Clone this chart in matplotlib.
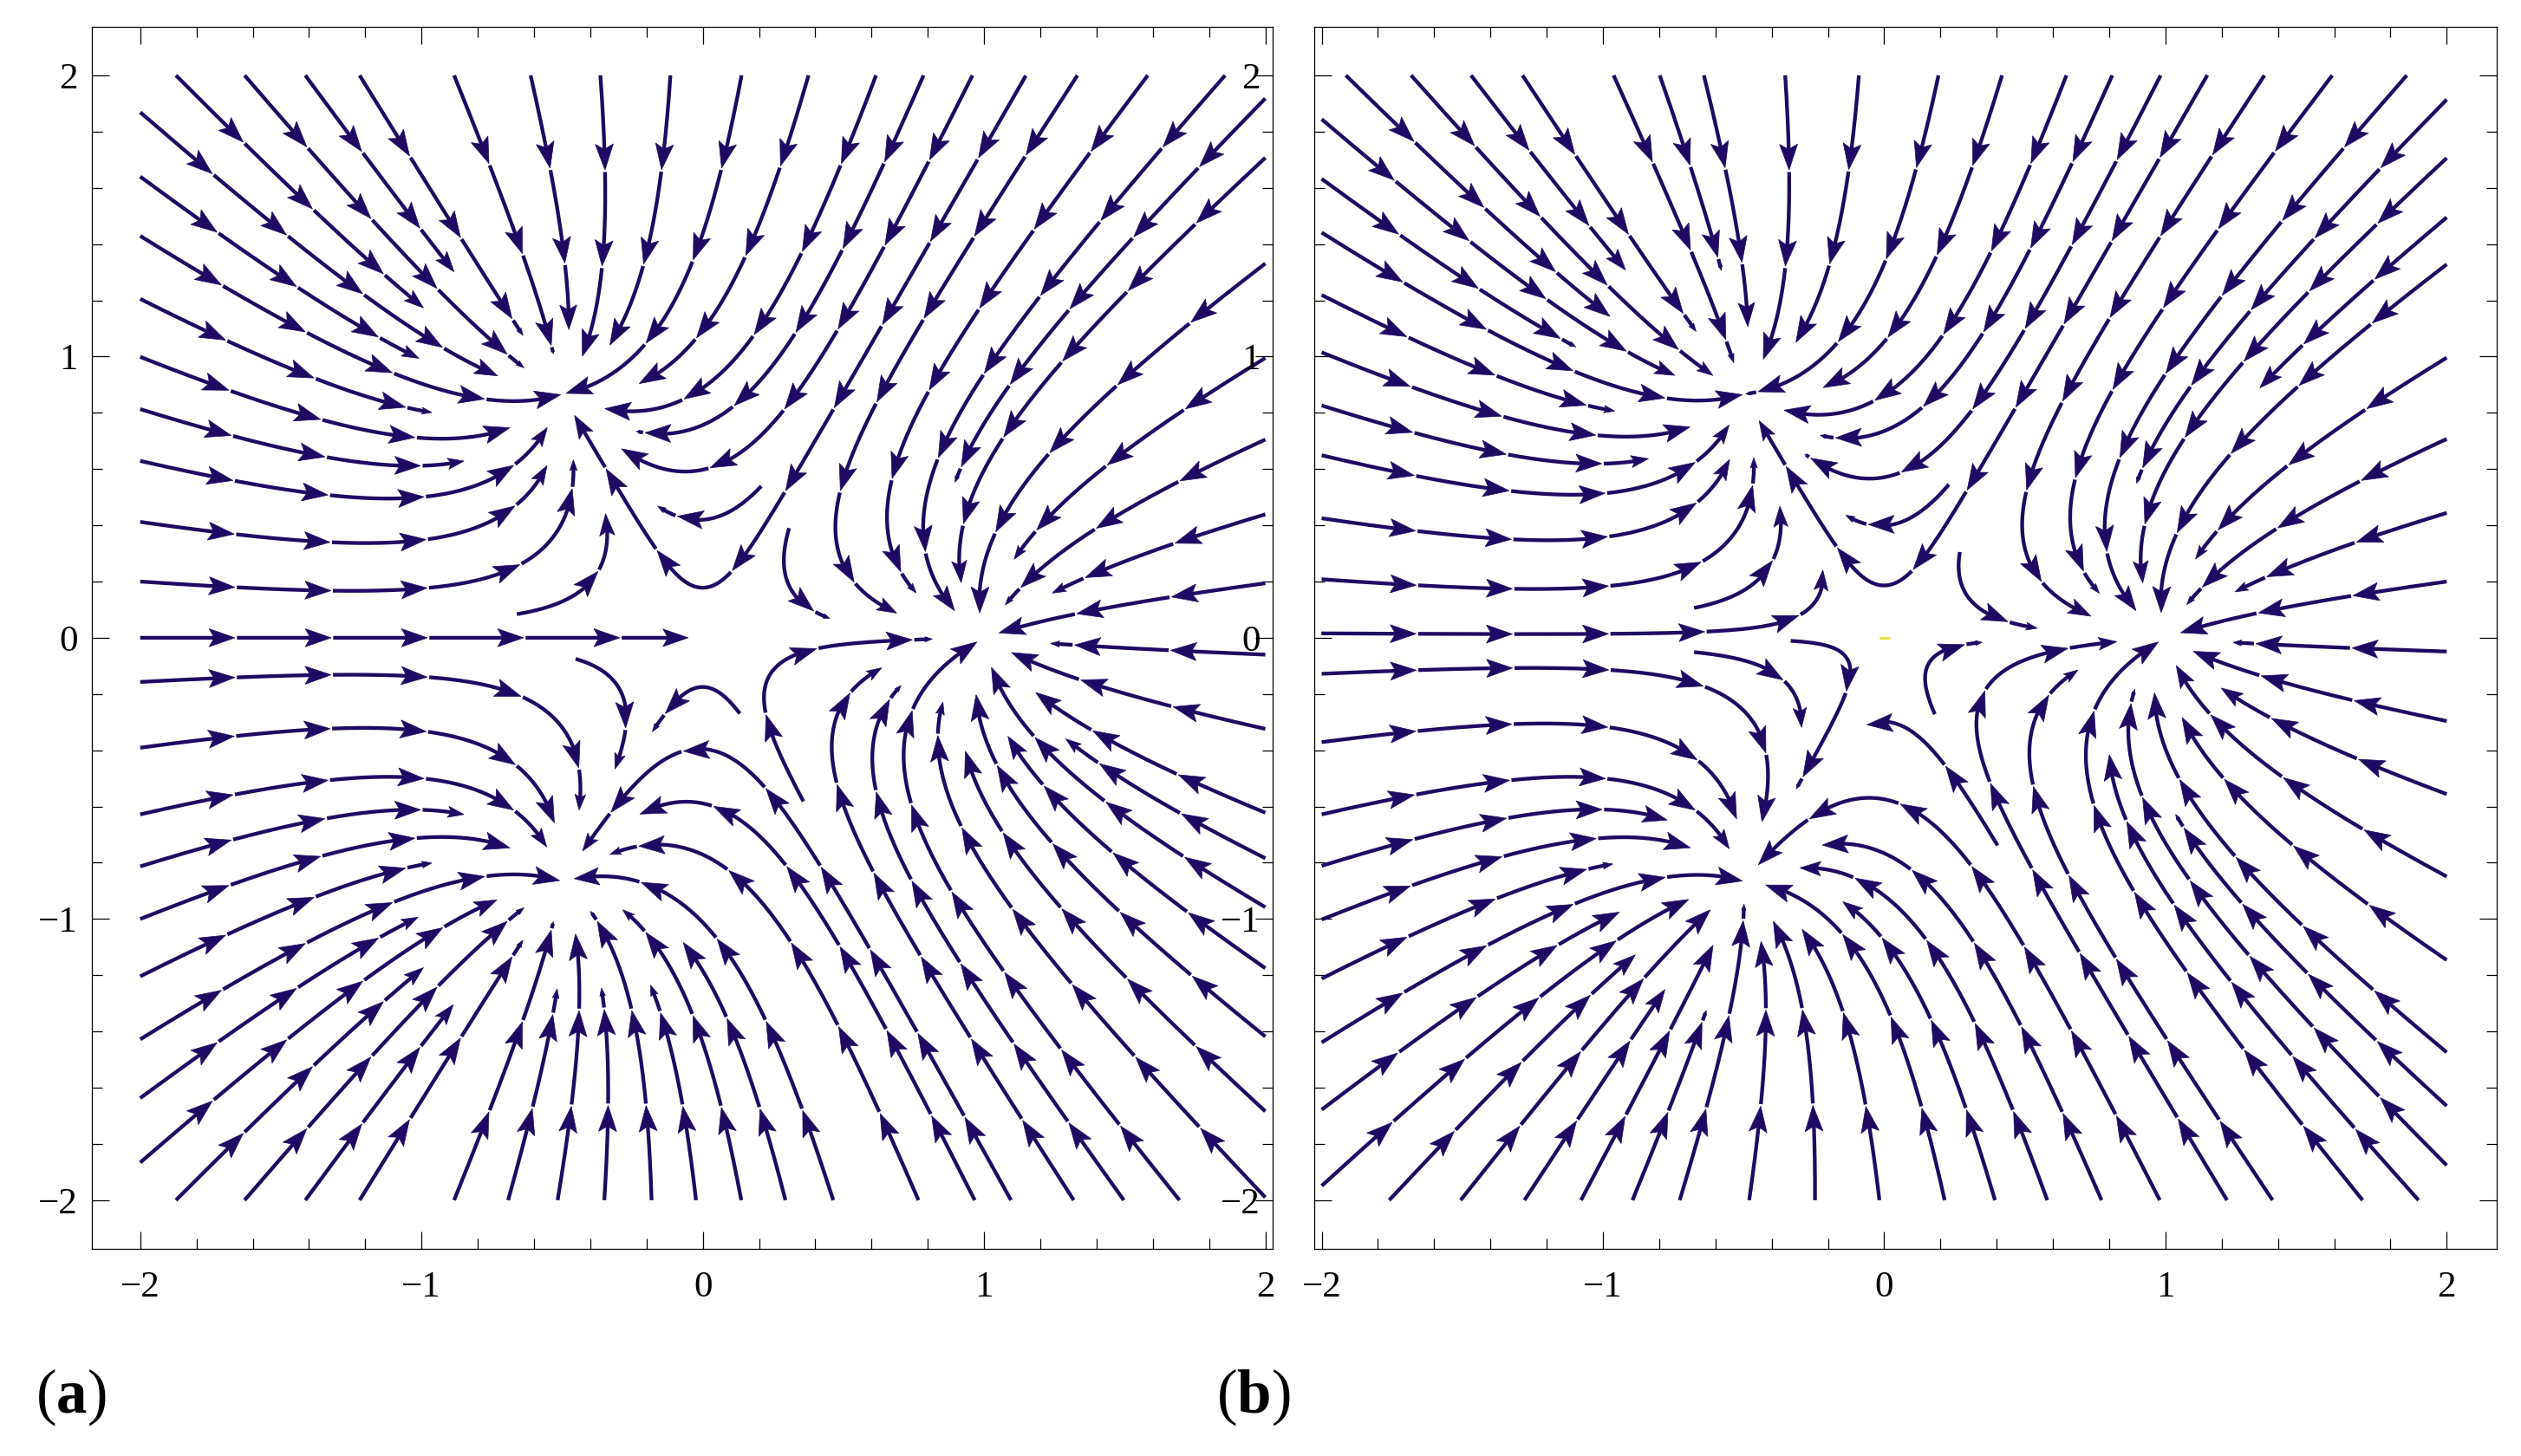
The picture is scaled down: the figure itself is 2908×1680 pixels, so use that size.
#!/usr/bin/env python3
"""Two stream plots of the Newton flow towards the three roots of unity."""

import numpy as np
import matplotlib
matplotlib.use('Agg')
import matplotlib.pyplot as plt
from matplotlib.collections import PolyCollection

plt.rcParams['font.family'] = 'Liberation Serif'
plt.rcParams['mathtext.fontset'] = 'custom'
plt.rcParams['mathtext.rm'] = 'Liberation Serif'
plt.rcParams['mathtext.bf'] = 'Liberation Serif:bold'

# sinks of the flow, as seen in both panels
roots = [1 + 0j, -0.5 + 0.866j, -0.5 - 0.866j]

# streamlines: tail x, tail y, end x, end y
a_left = [
    (-2, 0.2, -0.462, 0.636), (-2, 0.412, -0.554, 0.614), (-2, 0.629, -0.554, 0.748),
    (-2, 0.813, -0.846, 0.629), (-2, 0.999, -0.68, 0.75), (-2, 1.205, -0.962, 0.802),
    (-2, 1.429, -0.504, 0.868), (-2, 1.64, -1.009, 0.995), (-2, 1.869, -0.728, 0.935),
    (-2, 0, -0.049, 0), (-2, -0.157, -0.441, -0.615), (-2, -0.391, -0.531, -0.66),
    (-2, -0.628, -0.554, -0.746), (-2, -0.813, -0.846, -0.63), (-2, -1.0, -0.68, -0.749),
    (-2, -1.204, -0.962, -0.8), (-2, -1.428, -0.507, -0.863), (-2, -1.637, -1.009, -0.994),
    (-2, -1.866, -0.728, -0.933),
]
a_top = [
    (-1.873, 2, -0.994, 1.171), (-1.629, 2, -0.634, 0.959), (-1.413, 2, -0.884, 1.301),
    (-1.22, 2, -0.639, 1.074), (-0.884, 2, -0.534, 1.01), (-0.612, 2, -0.477, 1.096),
    (-0.364, 2, -0.429, 0.999), (-0.115, 2, -0.331, 1.041), (0.138, 2, -0.488, 0.869),
    (0.376, 2, -0.229, 0.907), (0.616, 2, -0.35, 0.817), (0.785, 2, -0.237, 0.735),
    (0.959, 2, -0.292, 0.671), (1.332, 2, 0.692, 0.085), (1.582, 2, 0.763, 0.163),
    (1.857, 2, 0.896, 0.096),
]
a_right = [
    (2, 1.918, 0.901, 0.551), (2, 1.707, 0.912, 0.193), (2, 1.331, 0.983, 0.088),
    (2, 0.995, 1.104, 0.278), (2, 0.705, 1.074, 0.118), (2, 0.439, 1.242, 0.163),
    (2, 0.194, 1.053, 0.018), (2, -0.06, 1.237, -0.019), (2, -0.324, 1.096, -0.055),
    (2, -0.622, 1.182, -0.2), (2, -0.784, 1.289, -0.361), (2, -0.958, 1.025, -0.104),
    (2, -1.175, 1.082, -0.351), (2, -1.418, 0.967, -0.202), (2, -1.684, 0.936, -0.403),
    (2, -1.99, 0.857, -0.227),
]
a_bottom = [
    (-1.873, -2, -0.991, -1.175), (-1.629, -2, -0.634, -0.96), (-1.413, -2, -0.884, -1.302),
    (-1.22, -2, -0.639, -1.075), (-0.884, -2, -0.535, -1.008), (-0.692, -2, -0.52, -1.246),
    (-0.516, -2, -0.454, -1.052), (-0.35, -2, -0.363, -1.246), (-0.182, -2, -0.402, -0.97),
    (-0.024, -2, -0.186, -1.232), (0.137, -2, -0.287, -0.97), (0.294, -2, -0.071, -1.082),
    (0.464, -2, -0.457, -0.855), (0.767, -2, -0.331, -0.773), (0.967, -2, -0.224, -0.627),
    (1.096, -2, -0.429, -0.757), (1.319, -2, 0.637, -0.112), (1.497, -2, 0.708, -0.172),
    (1.695, -2, 0.978, -0.015),
]
a_inner = [
    (-0.661, 0.084, -0.345, 0.444), (0.208, 0.539, -0.163, 0.469), (0.307, 0.39, 0.453, 0.07),
    (-0.452, -0.075, -0.312, -0.467), (0.358, -0.582, 0.818, -0.005),
]
# lines close to the origin: a point on the line, then tail x, tail y, end x, end y
a_through = [
    (0.0, 0.178, 1.151, 2, -0.457, 0.79),
    (0.0, -0.175, 0.134, -0.272, -0.182, -0.331),
]

b_left = [
    (-2, 1.844, -0.744, 0.935), (-2, 1.632, -1.093, 1.037), (-2, 1.441, -0.501, 0.865),
    (-2, 1.219, -0.958, 0.809), (-2, 1.015, -0.689, 0.749), (-2, 0.826, -0.839, 0.64),
    (-2, 0.649, -0.548, 0.758), (-2, 0.425, -0.548, 0.637), (-2, 0.208, -0.465, 0.644),
    (-2, -0.128, -0.432, -0.655), (-2, -0.371, -0.526, -0.645), (-2, -0.628, -0.548, -0.747),
    (-2, -0.811, -0.769, -0.648), (-2, -1.002, -0.689, -0.743), (-2, -1.212, -0.962, -0.804),
    (-2, -1.439, -0.504, -0.862), (-2, -1.678, -0.938, -0.976), (-2, -1.949, -0.693, -0.932),
]
b_top = [
    (-1.914, 2, -0.974, 1.143), (-1.682, 2, -0.606, 0.932), (-1.469, 2, -0.919, 1.306),
    (-1.286, 2, -0.669, 1.088), (-0.962, 2, -0.536, 0.976), (-0.798, 2, -0.577, 1.306),
    (-0.641, 2, -0.485, 1.103), (-0.352, 2, -0.432, 0.986), (-0.09, 2, -0.315, 1.049),
    (0.193, 2, -0.493, 0.868), (0.419, 2, -0.217, 0.892), (0.648, 2, -0.356, 0.812),
    (0.811, 2, -0.228, 0.724), (0.983, 2, -0.279, 0.656), (1.352, 2, 0.735, 0.077),
    (1.593, 2, 0.767, 0.157), (1.858, 2, 0.898, 0.099),
]
b_right = [
    (2, 1.914, 0.901, 0.55), (2, 1.706, 0.916, 0.193), (2, 1.495, 1.337, 0.887),
    (2, 1.328, 0.985, 0.087), (2, 0.996, 1.106, 0.278), (2, 0.707, 1.076, 0.118),
    (2, 0.444, 1.244, 0.163), (2, 0.2, 1.054, 0.019), (2, -0.049, 1.24, -0.016),
    (2, -0.296, 1.097, -0.047), (2, -0.556, 1.196, -0.178), (2, -0.849, 1.036, -0.098),
    (2, -1.146, 1.058, -0.281), (2, -1.474, 0.959, -0.194), (2, -1.665, 1.036, -0.627),
    (2, -1.876, 0.887, -0.182),
]
b_bottom = [
    (-1.76, -2, -0.882, -1.126), (-1.506, -2, -0.613, -0.961), (-1.279, -2, -0.78, -1.25),
    (-1.078, -2, -0.603, -1.075), (-0.895, -2, -0.635, -1.325), (-0.727, -2, -0.501, -0.947),
    (-0.48, -2, -0.439, -1.078), (-0.246, -2, -0.395, -1.005), (-0.017, -2, -0.294, -1.034),
    (0.215, -2, -0.424, -0.881), (0.394, -2, -0.148, -0.94), (0.58, -2, -0.301, -0.819),
    (0.773, -2, -0.238, -0.743), (0.98, -2, -0.446, -0.808), (1.219, -2, 0.83, -0.012),
    (1.381, -2, 0.69, -0.112), (1.701, -2, 0.985, -0.004), (1.9, -2, 0.804, -0.415),
]
b_inner = [
    (-0.676, 0.106, -0.366, 0.47), (0.23, 0.545, -0.138, 0.438), (0.269, 0.305, 0.547, 0.036),
    (-0.676, -0.051, -0.297, -0.32), (0.18, -0.272, 0.346, -0.012),
]
b_through = [
    (-0.308, 0.077, -2, 0.019, -0.221, 0.241),
    (0.0, 0.186, 1.153, 2, -0.446, 0.775),
    (-0.134, -0.189, -0.333, -0.007, -0.315, -0.539),
    (0.012, -0.299, 0.404, -0.741, -0.076, -0.317),
]
# small yellow dash at the origin of panel (b)
b_dash_x = [-0.016, 0.02]
b_dash_y = [0.0, 0.0]

major_ticks = [-2, -1, 0, 1, 2]
minor_ticks = [round(-2 + 0.2 * i, 1) for i in range(21) if i % 5 != 0]
tick_labels = ['\u22122', '\u22121', '0', '1', '2']

LINE_COLOR = '#1f0a63'
STEP = 0.004
ARROW_EVERY = 0.342
FIRST_ARROW = 0.337
HEAD_LEN = 0.092
HEAD_HALF = 0.032
GAP = 0.007


def field(z):
    """Newton flow of z^3 - 1, normalised to unit speed"""
    f = -(z ** 3 - 1) / (3 * z ** 2)
    return f / abs(f)


def integrate(start, target, sign=1.0):
    """Follow the field from start and cut at the point nearest to target"""
    pts = [start]
    z = start
    for _ in range(1500):
        k1 = field(z)
        k2 = field(z + 0.5 * sign * STEP * k1)
        k3 = field(z + 0.5 * sign * STEP * k2)
        k4 = field(z + sign * STEP * k3)
        z = z + sign * STEP * (k1 + 2 * k2 + 2 * k3 + k4) / 6
        pts.append(z)
        if abs(z - target) < STEP or min(abs(z - r) for r in roots) < 2 * STEP:
            break
    pts = np.array(pts)
    return pts[:np.argmin(abs(pts - target)) + 1]


def at(pts, s, arc):
    return np.interp(s, arc, pts.real) + 1j * np.interp(s, arc, pts.imag)


def draw_line(pts, xs, ys, heads):
    """Cut one streamline into shafts, each one closed by an arrow head"""
    arc = np.concatenate([[0], np.cumsum(abs(np.diff(pts)))])
    total = arc[-1]
    tips = list(np.arange(FIRST_ARROW, total, ARROW_EVERY))
    last = tips[-1] if tips else 0.0
    if total - last > 0.02:
        tips.append(total)
    begin = 0.0
    for tip_s in tips:
        scale = 1.0
        if tip_s == total and total - last < 0.25:
            scale = (total - last) / 0.25
        hl = HEAD_LEN * scale
        tip = at(pts, tip_s, arc)
        back = at(pts, max(tip_s - hl, 0.0), arc)
        d = (tip - back) / max(abs(tip - back), 1e-6)
        n = d * 1j
        base = tip - hl * d
        w = HEAD_HALF * scale
        corners = [tip, base + w * n, tip - 0.8 * hl * d, base - w * n]
        heads.append([(c.real, c.imag) for c in corners])
        stop = tip_s - 0.6 * hl
        if stop > begin:
            inside = (arc > begin) & (arc < stop)
            seg = np.concatenate([[at(pts, begin, arc)], pts[inside], [at(pts, stop, arc)]])
            xs.extend(seg.real)
            ys.extend(seg.imag)
            xs.append(np.nan)
            ys.append(np.nan)
        begin = tip_s + GAP


def draw_panel(ax, lines, through):
    xs, ys, heads = [], [], []
    for tx, ty, ex, ey in lines:
        draw_line(integrate(complex(tx, ty), complex(ex, ey)), xs, ys, heads)
    for ax_, ay_, tx, ty, ex, ey in through:
        anchor = complex(ax_, ay_)
        behind = integrate(anchor, complex(tx, ty), -1.0)
        ahead = integrate(anchor, complex(ex, ey))
        draw_line(np.concatenate([behind[::-1], ahead[1:]]), xs, ys, heads)
    ax.plot(xs, ys, color=LINE_COLOR, lw=3.1, solid_capstyle='butt', solid_joinstyle='round')
    ax.add_collection(PolyCollection(heads, facecolors=LINE_COLOR, edgecolors=LINE_COLOR,
                                     linewidths=0.5, zorder=3))


def style_axes(ax, xlim, ylim, label_pad):
    ax.set_xlim(*xlim)
    ax.set_ylim(*ylim)
    ax.set_xticks(major_ticks)
    ax.set_yticks(major_ticks)
    ax.set_xticklabels(tick_labels)
    ax.set_yticklabels(tick_labels)
    ax.set_xticks(minor_ticks, minor=True)
    ax.set_yticks(minor_ticks, minor=True)
    ax.tick_params(which='major', direction='in', top=True, right=True, length=14.4, width=0.9)
    ax.tick_params(which='minor', direction='in', top=True, right=True, length=8.6, width=0.9)
    ax.tick_params(axis='x', which='major', labelsize=31, pad=18)
    ax.tick_params(axis='y', which='major', labelsize=31, pad=label_pad)
    for spine in ax.spines.values():
        spine.set_linewidth(0.9)


W, H = 2908, 1680
fig = plt.figure(figsize=(W / 100, H / 100), dpi=100)


def px_axes(left, right, top, bottom):
    return fig.add_axes([left / W, 1 - bottom / H, (right - left) / W, (bottom - top) / H])


ax_a = px_axes(105.6, 1468.3, 30.5, 1441.3)
ax_b = px_axes(1515.5, 2879.7, 30.5, 1441.3)

draw_panel(ax_a, a_left + a_top + a_right + a_bottom + a_inner, a_through)
draw_panel(ax_b, b_left + b_top + b_right + b_bottom + b_inner, b_through)
ax_b.plot(b_dash_x, b_dash_y, color='#e8e04a', lw=2.4, solid_capstyle='butt')

style_axes(ax_a, (-2.173, 2.027), (-2.174, 2.174), 11.5)
style_axes(ax_b, (-2.028, 2.177), (-2.174, 2.174), 44.6)

fig.text(41 / W, 1 - 1630 / H, r'($\mathbf{a}$)', fontsize=51, va='baseline')
fig.text(1403 / W, 1 - 1630 / H, r'($\mathbf{b}$)', fontsize=51, va='baseline')

fig.savefig('out.png', dpi=100)
plt.close(fig)
